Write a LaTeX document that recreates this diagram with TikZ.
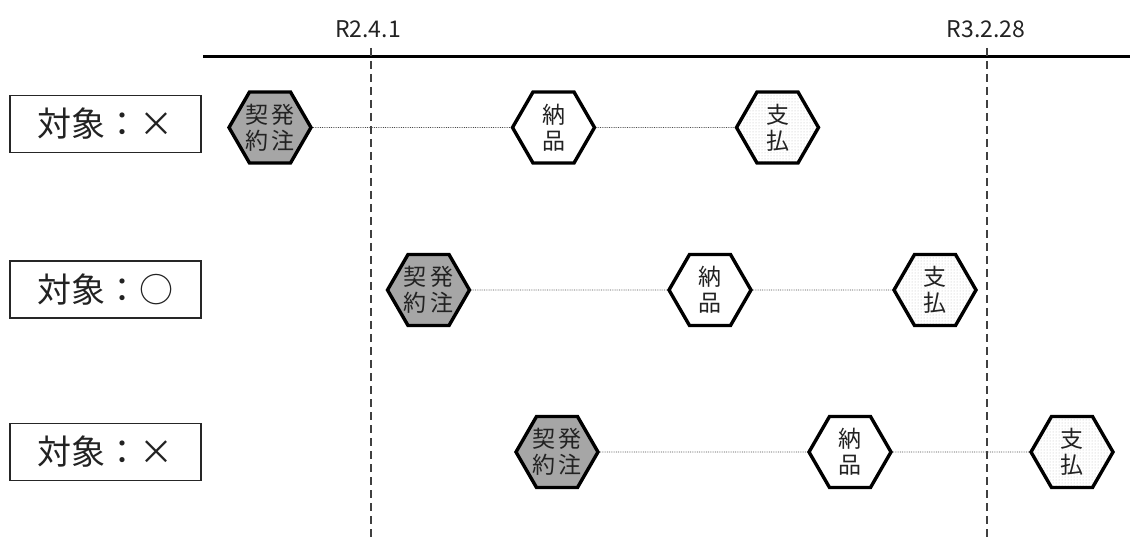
\documentclass[tikz,border=0pt]{standalone}
\usepackage{fontspec}
\setmainfont{Noto Sans CJK JP}
\usetikzlibrary{shapes.geometric,patterns}
\definecolor{ordfill}{HTML}{A6A6A6}
\definecolor{txt}{HTML}{222222}
\tikzset{
  hexbase/.style={regular polygon, regular polygon sides=6, minimum size=82pt,
    inner sep=0pt, line width=3.4pt, draw=black, align=center, text=txt,
    font=\fontsize{23}{26}\selectfont},
  hexorder/.style={hexbase, fill=ordfill},
  hexdeliv/.style={hexbase, fill=white},
  hexpay/.style={hexbase, pattern=dots, pattern color=gray!55},
  labelbox/.style={draw=black!85, line width=1.1pt, minimum width=191pt,
    minimum height=57pt, inner sep=0pt, font=\fontsize{34}{34}\selectfont, text=txt},
  datelabel/.style={font=\fontsize{23}{23}\selectfont, inner sep=0pt, text=txt},
  dateline/.style={dashed, dash pattern=on 8pt off 5pt, line width=1.1pt, draw=black!75},
  conn/.style={densely dotted, line width=0.8pt, draw=black!70},
  axis/.style={line width=3pt, draw=black}
}
\begin{document}
\begin{tikzpicture}[x=1pt,y=-1pt]
\useasboundingbox (0,0) rectangle (1130,537);
% timeline
\coordinate (axL) at (203,57);
\coordinate (axR) at (1130,57);
\draw[axis] (axL) -- (axR);
\coordinate (d1t) at (371,48);
\coordinate (d1b) at (371,537);
\coordinate (d2t) at (987,48);
\coordinate (d2b) at (987,537);
\draw[dateline] (d1t) -- (d1b);
\draw[dateline] (d2t) -- (d2b);
\node[datelabel] (lab1) at (368,29) {R2.4.1};
\node[datelabel] (lab2) at (986,29) {R3.2.28};
% row labels
\node[labelbox] (r1) at (105.5,124) {対象：×};
\node[labelbox] (r2) at (105.5,289.5) {対象：○};
\node[labelbox] (r3) at (105.5,452) {対象：×};
% row 1
\node[hexorder] (a1) at (270,127.5) {契\kern4pt 発\\約\kern4pt 注};
\node[hexdeliv] (b1) at (553.5,127.5) {納\\品};
\node[hexpay] (c1) at (777.5,127.5) {支\\払};
% row 2
\node[hexorder] (a2) at (428.5,290) {契\kern4pt 発\\約\kern4pt 注};
\node[hexdeliv] (b2) at (710,290) {納\\品};
\node[hexpay] (c2) at (935,290) {支\\払};
% row 3
\node[hexorder] (a3) at (557,452) {契\kern4pt 発\\約\kern4pt 注};
\node[hexdeliv] (b3) at (850,452) {納\\品};
\node[hexpay] (c3) at (1072,452) {支\\払};
% connectors
\draw[conn] (a1) -- (b1);
\draw[conn] (b1) -- (c1);
\draw[conn] (a2) -- (b2);
\draw[conn] (b2) -- (c2);
\draw[conn] (a3) -- (b3);
\draw[conn] (b3) -- (c3);
\end{tikzpicture}
\end{document}
